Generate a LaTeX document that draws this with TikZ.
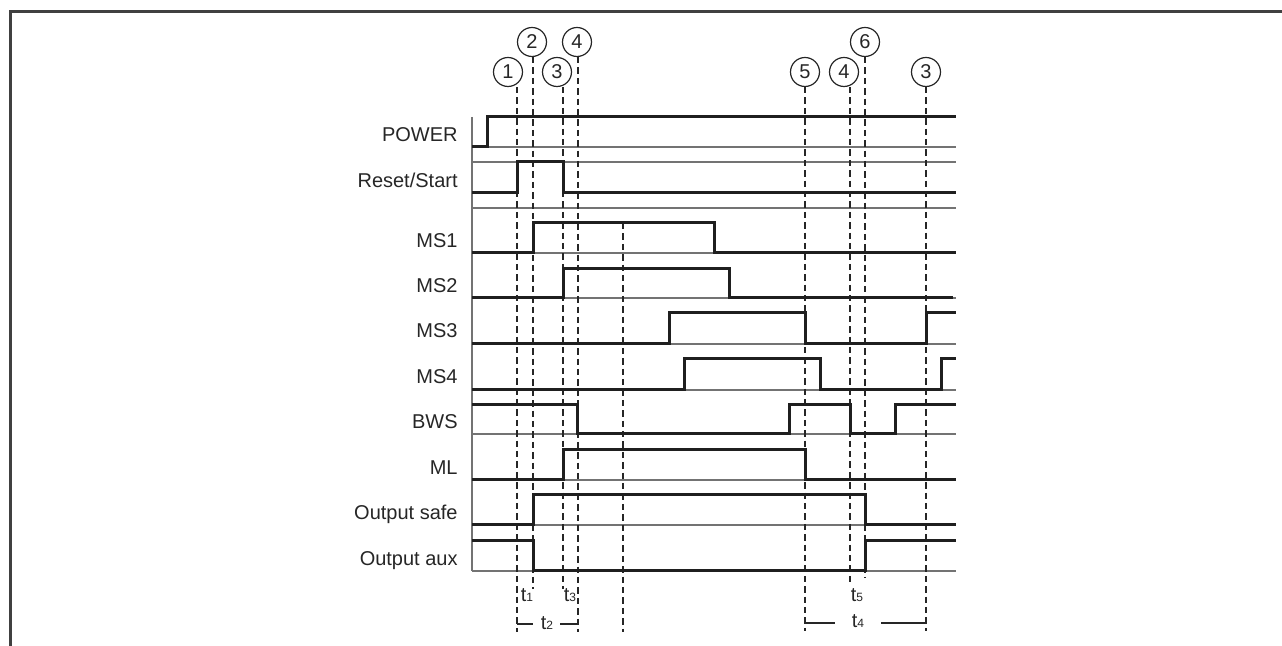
\documentclass[tikz,border=0pt]{standalone}
\usepackage{fontspec}
\setmainfont{Liberation Sans}
\begin{document}
\begin{tikzpicture}[x=0.5pt,y=-0.5pt,
  sig/.style={line width=1.5pt,draw=black!88,line join=miter},
  refl/.style={line width=0.55pt,draw=black!55},
  guide/.style={line width=0.6pt,draw=black!85,dash pattern=on 3.2pt off 2pt},
  frame/.style={line width=1.1pt,draw=black!75},
  lbl/.style={anchor=base east,inner sep=0pt,font=\fontsize{10}{12}\selectfont,text=black!85},
  num/.style={circle,draw=black!85,line width=0.6pt,minimum size=14.5pt,inner sep=0pt,font=\fontsize{10}{12}\selectfont,text=black!85},
  tl/.style={anchor=base,inner sep=0pt,font=\fontsize{10}{12}\selectfont,text=black!85},
  brk/.style={line width=0.6pt,draw=black!85}]
\useasboundingbox (0,0) rectangle (1282,646);
% frame
\coordinate (fTL) at (10.5,11.5);
\coordinate (fTR) at (1282,11.5);
\coordinate (fBL) at (10.5,646);
\draw[frame] (fBL) -- (fTL) -- (fTR);

% labels
\node[lbl] (lPOWER) at (458,142) {POWER};
\node[lbl] (lRS) at (458,188) {Reset/Start};
\node[lbl] (lMS1) at (458,248) {MS1};
\node[lbl] (lMS2) at (458,293) {MS2};
\node[lbl] (lMS3) at (458,338) {MS3};
\node[lbl] (lMS4) at (458,384) {MS4};
\node[lbl] (lBWS) at (458,429) {BWS};
\node[lbl] (lML) at (458,475) {ML};
\node[lbl] (lOS) at (458,520) {Output safe};
\node[lbl] (lOA) at (458,566) {Output aux};

% reference (thin) lines
\draw[refl] (472,117) -- (472,571);
\foreach \yy in {147,162,208,253,298,344,390,434,480,525,571}
  \draw[refl] (472,\yy) -- (956,\yy);

% circles
\node[num] (c1) at (508,72) {1};
\node[num] (c2) at (532,42) {2};
\node[num] (c3) at (557,72) {3};
\node[num] (c4) at (577,42) {4};
\node[num] (c5) at (805,72) {5};
\node[num] (c4b) at (844,72) {4};
\node[num] (c6) at (865,42) {6};
\node[num] (c3b) at (926,72) {3};

% dashed guide lines
\coordinate (g1t) at (517,87);  \coordinate (g1b) at (517,632);
\coordinate (g2t) at (533,57);  \coordinate (g2b) at (533,589);
\coordinate (g3t) at (563,87);  \coordinate (g3b) at (563,589);
\coordinate (g4t) at (578,57);  \coordinate (g4b) at (578,632);
\coordinate (gmt) at (623,223); \coordinate (gmb) at (623,632);
\coordinate (g5t) at (805,87);  \coordinate (g5b) at (805,631);
\coordinate (g4bt) at (850,87); \coordinate (g4bb) at (850,583);
\coordinate (g6t) at (865,57);  \coordinate (g6b) at (865,578);
\coordinate (g3bt) at (926,87); \coordinate (g3bb) at (926,631);
\foreach \g in {g1,g2,g3,g4,gm,g5,g4b,g6,g3b}
  \draw[guide] (\g t) -- (\g b);

% signals
\draw[sig] (472,147) -- (487,147) -- (487,117) -- (956,117);
\draw[sig] (472,193) -- (517,193) -- (517,162) -- (563,162) -- (563,193) -- (956,193);
\draw[sig] (472,253) -- (533,253) -- (533,223) -- (714,223) -- (714,253) -- (956,253);
\draw[sig] (472,298) -- (563,298) -- (563,269) -- (729,269) -- (729,298) -- (953,298);
\draw[sig] (472,344) -- (669,344) -- (669,313) -- (805,313) -- (805,344) -- (926,344) -- (926,313) -- (956,313);
\draw[sig] (472,390) -- (684,390) -- (684,359) -- (820,359) -- (820,390) -- (941,390) -- (941,359) -- (956,359);
\draw[sig] (472,405) -- (577,405) -- (577,434) -- (789,434) -- (789,405) -- (850,405) -- (850,434) -- (895,434) -- (895,405) -- (956,405);
\draw[sig] (472,480) -- (563,480) -- (563,450) -- (805,450) -- (805,480) -- (956,480);
\draw[sig] (472,525) -- (533,525) -- (533,495) -- (865,495) -- (865,525) -- (956,525);
\draw[sig] (472,541) -- (533,541) -- (533,571) -- (865,571) -- (865,541) -- (956,541);

% time labels
\node[tl] (t1) at (527,602) {t{\fontsize{6}{7}\selectfont 1}};
\node[tl] (t3) at (570,602) {t{\fontsize{6}{7}\selectfont 3}};
\node[tl] (t2) at (547,630) {t{\fontsize{6}{7}\selectfont 2}};
\node[tl] (t5) at (857,602) {t{\fontsize{6}{7}\selectfont 5}};
\node[tl] (t4) at (858,628) {t{\fontsize{6}{7}\selectfont 4}};

% brackets
\draw[brk] (517,624) -- (533,624);
\draw[brk] (560,624) -- (578,624);
\draw[brk] (805,623) -- (835,623);
\draw[brk] (881,623) -- (926,623);
\end{tikzpicture}
\end{document}
